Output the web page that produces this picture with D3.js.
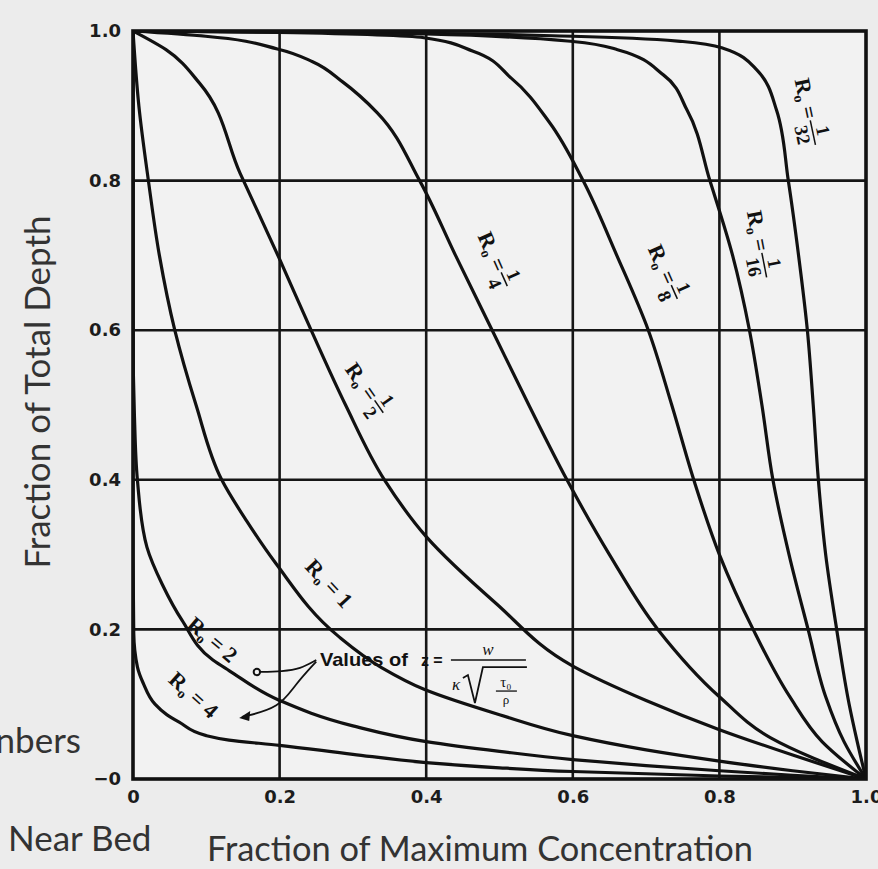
<!DOCTYPE html>
<html>
<head>
<meta charset="utf-8">
<script src="https://cdn.jsdelivr.net/npm/d3@7"></script>
<style>
  body { margin: 0; background: #ececec; }
  svg { display: block; }
</style>
</head>
<body>
<div id="chart"></div>
<script>
var svgWidth = 878;
var svgHeight = 869;

var margin = { top: 31, right: 12, bottom: 90, left: 133 };
var width = svgWidth - margin.left - margin.right;
var height = svgHeight - margin.top - margin.bottom;

// ticks
var tickValues = [0, 0.2, 0.4, 0.6, 0.8, 1.0];
var xTickLabels = ["0", "0.2", "0.4", "0.6", "0.8", "1.0"];
var yTickLabels = ["\u22120", "0.2", "0.4", "0.6", "0.8", "1.0"];

// Rouse numbers (one curve each)
var rouseNumbers = ["1/32", "1/16", "1/8", "1/4", "1/2", "1", "2", "4"];

// fraction of max concentration / fraction of depth
var conc32  = [0, 0.30, 0.60, 0.75, 0.805, 0.851, 0.878, 0.894, 0.908, 0.920, 0.928, 0.935, 0.945, 0.960, 0.977, 0.988, 1.0];
var depth32 = [1, 0.998, 0.993, 0.986, 0.977, 0.948, 0.894, 0.80, 0.70, 0.60, 0.50, 0.40, 0.30, 0.20, 0.10, 0.05, 0];

var conc16  = [0, 0.20, 0.40, 0.60, 0.661, 0.724, 0.756, 0.787, 0.818, 0.841, 0.858, 0.873, 0.895, 0.921, 0.945, 0.970, 1.0];
var depth16 = [1, 0.999, 0.996, 0.986, 0.975, 0.941, 0.894, 0.80, 0.70, 0.60, 0.50, 0.40, 0.30, 0.20, 0.11, 0.05, 0];

var conc8  = [0, 0.20, 0.397, 0.464, 0.516, 0.568, 0.614, 0.660, 0.703, 0.735, 0.765, 0.800, 0.846, 0.896, 0.940, 1.0];
var depth8 = [1, 0.998, 0.991, 0.973, 0.937, 0.878, 0.80, 0.70, 0.60, 0.50, 0.40, 0.30, 0.20, 0.11, 0.05, 0];

var conc4  = [0, 0.099, 0.197, 0.245, 0.286, 0.333, 0.391, 0.440, 0.490, 0.540, 0.592, 0.650, 0.716, 0.800, 0.870, 1.0];
var depth4 = [1, 0.993, 0.976, 0.959, 0.932, 0.891, 0.80, 0.70, 0.60, 0.50, 0.40, 0.30, 0.20, 0.11, 0.055, 0];

var conc2  = [0, 0.045, 0.091, 0.146, 0.200, 0.243, 0.290, 0.343, 0.400, 0.495, 0.600, 0.700, 0.800, 0.900, 1.0];
var depth2 = [1, 0.975, 0.930, 0.810, 0.695, 0.60, 0.50, 0.40, 0.324, 0.235, 0.151, 0.105, 0.066, 0.032, 0];

var conc1  = [0, 0.008, 0.021, 0.036, 0.057, 0.086, 0.121, 0.155, 0.195, 0.280, 0.339, 0.397, 0.500, 0.600, 0.700, 0.800, 0.900, 1.0];
var depth1 = [1, 0.90, 0.80, 0.70, 0.60, 0.50, 0.40, 0.345, 0.288, 0.191, 0.149, 0.120, 0.086, 0.058, 0.039, 0.024, 0.011, 0];

var concR2  = [0, 0.0, 0.002, 0.006, 0.019, 0.040, 0.067, 0.109, 0.131, 0.200, 0.300, 0.400, 0.500, 0.600, 0.700, 0.800, 0.900, 1.0];
var depthR2 = [1, 0.60, 0.484, 0.40, 0.310, 0.260, 0.212, 0.159, 0.145, 0.105, 0.071, 0.050, 0.037, 0.026, 0.018, 0.011, 0.005, 0];

var concR4  = [0, 0.0, 0.001, 0.006, 0.014, 0.030, 0.046, 0.063, 0.100, 0.131, 0.200, 0.300, 0.400, 0.500, 0.600, 0.800, 1.0];
var depthR4 = [1, 0.30, 0.195, 0.150, 0.128, 0.100, 0.086, 0.076, 0.058, 0.052, 0.045, 0.033, 0.022, 0.015, 0.010, 0.004, 0];

var curveConc = [conc32, conc16, conc8, conc4, conc2, conc1, concR2, concR4];
var curveDepth = [depth32, depth16, depth8, depth4, depth2, depth1, depthR2, depthR4];

// curve labels: where they sit (data units) and their tilt
var curveLabels = [
  { text: "1/32", v: 0.925, d: 0.882, angle: 78 },
  { text: "1/16", v: 0.859, d: 0.705, angle: 79 },
  { text: "1/8",  v: 0.735, d: 0.662, angle: 66 },
  { text: "1/4",  v: 0.503, d: 0.679, angle: 66 },
  { text: "1/2",  v: 0.330, d: 0.508, angle: 55 },
  { text: "1",    v: 0.268, d: 0.262, angle: 47 },
  { text: "2",    v: 0.109, d: 0.187, angle: 40 },
  { text: "4",    v: 0.083, d: 0.113, angle: 42 }
];

var svg = d3.select("#chart")
  .append("svg")
  .attr("width", svgWidth)
  .attr("height", svgHeight)
  .style("background", "#ececec");

var chartGroup = svg.append("g")
  .attr("transform", `translate(${margin.left}, ${margin.top})`);

var x = d3.scaleLinear().domain([0, 1]).range([0, width]);
var y = d3.scaleLinear().domain([0, 1]).range([height, 0]);

chartGroup.append("rect")
  .attr("width", width)
  .attr("height", height)
  .attr("fill", "#f2f2f2");

chartGroup.append("clipPath").attr("id", "plotClip")
  .append("rect").attr("width", width).attr("height", height);

// grid
chartGroup.append("g").selectAll("line")
  .data(tickValues.slice(1, -1))
  .enter().append("line")
  .attr("x1", d => x(d)).attr("x2", d => x(d))
  .attr("y1", 0).attr("y2", height)
  .attr("stroke", "#161616").attr("stroke-width", 2.6);

chartGroup.append("g").selectAll("line")
  .data(tickValues.slice(1, -1))
  .enter().append("line")
  .attr("y1", d => y(d)).attr("y2", d => y(d))
  .attr("x1", 0).attr("x2", width)
  .attr("stroke", "#161616").attr("stroke-width", 2.6);

// curves: depth rises monotonically, so interpolate along y
var line = d3.line()
  .x(d => x(d[0]))
  .y(d => y(d[1]))
  .curve(d3.curveMonotoneY);

var curveData = curveConc.map((c, i) =>
  c.map((v, j) => [v, curveDepth[i][j]]).reverse());

chartGroup.append("g")
  .attr("clip-path", "url(#plotClip)")
  .selectAll("path")
  .data(curveData)
  .enter().append("path")
  .attr("d", line)
  .attr("fill", "none")
  .attr("stroke", "#111")
  .attr("stroke-width", 3.2);

// frame
chartGroup.append("rect")
  .attr("width", width)
  .attr("height", height)
  .attr("fill", "none")
  .attr("stroke", "#111")
  .attr("stroke-width", 3.6);

// axes
var bottomAxis = d3.axisBottom(x)
  .tickValues(tickValues)
  .tickFormat((d, i) => xTickLabels[i])
  .tickSize(0)
  .tickPadding(11);

var leftAxis = d3.axisLeft(y)
  .tickValues(tickValues)
  .tickFormat((d, i) => yTickLabels[i])
  .tickSize(0)
  .tickPadding(12);

var xAxis = chartGroup.append("g")
  .attr("transform", `translate(0, ${height})`)
  .call(bottomAxis);
var yAxis = chartGroup.append("g").call(leftAxis);

[xAxis, yAxis].forEach(function(a) {
  a.select(".domain").remove();
  a.selectAll("text")
    .attr("fill", "#1c1c1c")
    .style("font-family", "DejaVu Sans")
    .style("font-weight", "bold")
    .style("font-size", "18px");
});

// curve labels
var labelFont = "Liberation Serif";
curveLabels.forEach(function(lab) {
  var g = chartGroup.append("g")
    .attr("transform", `translate(${x(lab.v)}, ${y(lab.d)}) rotate(${lab.angle})`)
    .attr("fill", "#111")
    .style("font-family", labelFont)
    .style("font-weight", "bold");

  var parts = lab.text.split("/");
  var t = g.append("text").style("font-size", "22px");
  t.append("tspan").text("R");
  t.append("tspan").attr("dy", 4).style("font-size", "14px").text("o");
  t.append("tspan").attr("dy", -4).text(" = ");

  if (parts.length === 2) {
    t.attr("text-anchor", "end").attr("x", -1).attr("y", 8);
    var w = parts[1].length > 1 ? 23 : 13;
    g.append("text")
      .attr("x", 2 + w / 2).attr("y", -3)
      .attr("text-anchor", "middle")
      .style("font-size", "19px")
      .text(parts[0]);
    g.append("line")
      .attr("x1", 1).attr("x2", 3 + w)
      .attr("y1", 1).attr("y2", 1)
      .attr("stroke", "#111").attr("stroke-width", 1.5);
    g.append("text")
      .attr("x", 2 + w / 2).attr("y", 18)
      .attr("text-anchor", "middle")
      .style("font-size", "19px")
      .text(parts[1]);
  } else {
    t.append("tspan").text(lab.text);
    t.attr("text-anchor", "middle").attr("y", 8);
  }
});

// "Values of" note with its two pointers
var pointer1 = [[0.250, 0.159], [0.228, 0.147], [0.205, 0.144], [0.169, 0.143]];
var pointer2 = [[0.250, 0.157], [0.221, 0.126], [0.200, 0.095], [0.149, 0.083]];

var pLine = d3.line().x(d => x(d[0])).y(d => y(d[1])).curve(d3.curveBasis);

chartGroup.append("path").attr("d", pLine(pointer1))
  .attr("fill", "none").attr("stroke", "#111").attr("stroke-width", 1.8);
chartGroup.append("path").attr("d", pLine(pointer2))
  .attr("fill", "none").attr("stroke", "#111").attr("stroke-width", 1.8);

chartGroup.append("circle")
  .attr("cx", x(0.169)).attr("cy", y(0.143)).attr("r", 3.2)
  .attr("fill", "#f2f2f2").attr("stroke", "#111").attr("stroke-width", 2);

var tipX = x(0.149), tipY = y(0.083);
chartGroup.append("path")
  .attr("d", `M${tipX - 3},${tipY + 1} L${tipX + 8},${tipY - 6} L${tipX + 7},${tipY + 4} Z`)
  .attr("fill", "#111");

var note = chartGroup.append("g")
  .attr("transform", `translate(${x(0.255)}, ${y(0.151)})`)
  .attr("fill", "#111")
  .style("font-family", "Liberation Sans");

note.append("text")
  .style("font-size", "19px")
  .style("font-weight", "bold")
  .attr("textLength", 88)
  .attr("lengthAdjust", "spacingAndGlyphs")
  .text("Values of");
note.append("text")
  .attr("x", 101)
  .style("font-size", "16px")
  .style("font-weight", "bold")
  .text("z =");
note.append("line")
  .attr("x1", 131).attr("x2", 206).attr("y1", -6).attr("y2", -6)
  .attr("stroke", "#111").attr("stroke-width", 1.6);
note.append("text")
  .attr("x", 168).attr("y", -11)
  .attr("text-anchor", "middle")
  .style("font-family", "Liberation Serif")
  .style("font-style", "italic")
  .style("font-size", "17px")
  .text("w");
note.append("text")
  .attr("x", 132).attr("y", 24)
  .style("font-family", "Liberation Serif")
  .style("font-style", "italic")
  .style("font-size", "17px")
  .text("\u03ba");
note.append("path")
  .attr("d", "M143,12 L148,9 L155,37 L163,1 L207,1")
  .attr("fill", "none").attr("stroke", "#111").attr("stroke-width", 1.8);
note.append("text")
  .attr("x", 186).attr("y", 21)
  .attr("text-anchor", "middle")
  .style("font-family", "Liberation Serif")
  .style("font-size", "15px")
  .text("\u03c4\u2080");
note.append("line")
  .attr("x1", 176).attr("x2", 197).attr("y1", 25).attr("y2", 25)
  .attr("stroke", "#111").attr("stroke-width", 1.3);
note.append("text")
  .attr("x", 186).attr("y", 38)
  .attr("text-anchor", "middle")
  .style("font-family", "Liberation Serif")
  .style("font-size", "13px")
  .text("\u03c1");

// axis titles and stray text from the slide
svg.append("text")
  .attr("transform", "translate(50, 392) rotate(-90)")
  .attr("text-anchor", "middle")
  .attr("fill", "#333")
  .style("font-family", "Lato")
  .style("font-size", "35px")
  .text("Fraction of Total Depth");

svg.append("text")
  .attr("x", 207).attr("y", 861)
  .attr("fill", "#333")
  .style("font-family", "Lato")
  .style("font-size", "34.4px")
  .text("Fraction of Maximum Concentration");

svg.append("text")
  .attr("x", 81).attr("y", 753)
  .attr("text-anchor", "end")
  .attr("fill", "#333")
  .style("font-family", "Lato")
  .style("font-size", "35px")
  .text("nbers");

svg.append("text")
  .attr("x", 8).attr("y", 851)
  .attr("fill", "#333")
  .style("font-family", "Lato")
  .style("font-size", "35px")
  .text("Near Bed");
</script>
</body>
</html>
